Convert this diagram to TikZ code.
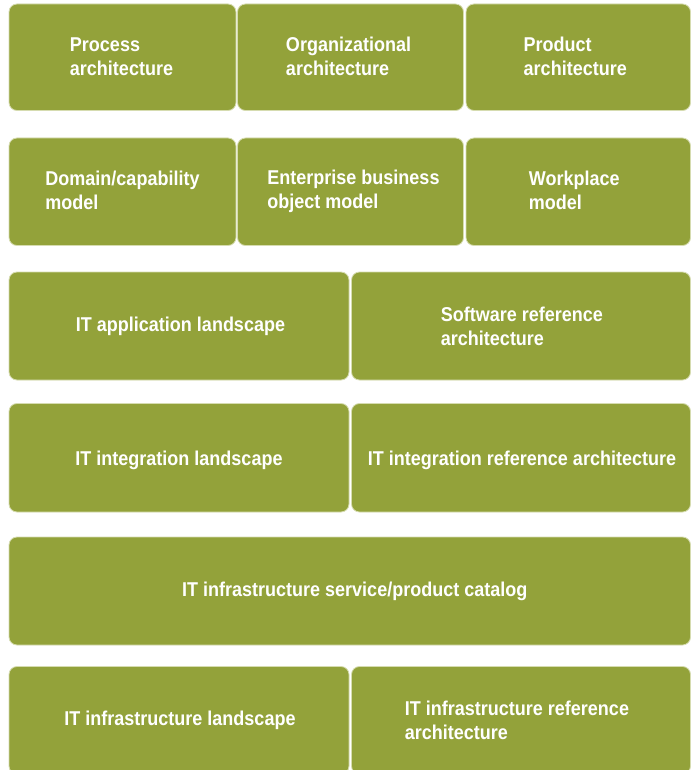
\documentclass[tikz,border=0pt]{standalone}
\usepackage{fontspec}
\setmainfont{Liberation Sans}[FakeStretch=0.9]
\definecolor{boxgreen}{RGB}{147,162,58}
\definecolor{boxedge}{RGB}{214,220,176}
\tikzset{
  blk/.style={fill=boxgreen, draw=boxedge, line width=0.8pt, rounded corners=8pt,
    inner sep=0pt},
  blktext/.style={text=white, align=left, inner sep=0pt,
    font=\bfseries\fontsize{20}{24}\selectfont},
}
\newcommand{\blkbox}[8][0]{% [x shift], y shift, name, x1, x2, y1, y2, text
  \node[blk, minimum width={(#5-#4)*1pt}, minimum height={(#7-#6)*1pt}]
    (#3) at ({(#4+#5)/2},{(#6+#7)/2}) {};
  \node[blktext] (#3-t) at ([xshift=#1pt,yshift=-#2pt]#3.center) {#8};}
\begin{document}
\begin{tikzpicture}[x=1pt,y=-1pt]
\useasboundingbox (0,0) rectangle (692,770);
\fill[white] (0,0) rectangle (692,770);
% row 1
\blkbox[-1]{-1}{proc}{9}{236}{4}{110.5}{Process\\architecture}
\blkbox[-2]{-1}{org}{237.5}{463.5}{4}{110.5}{Organizational\\architecture}
\blkbox[-3]{-1}{prod}{466}{690.5}{4}{110.5}{Product\\architecture}
% row 2
\blkbox{-1}{dom}{9}{236}{138}{245.5}{Domain/capability\\model}
\blkbox[3]{0}{ebo}{237.5}{463.5}{138}{245.5}{Enterprise business\\object model}
\blkbox[-4]{-1}{work}{466}{690.5}{138}{245.5}{Workplace\\model}
% row 3
\blkbox[1.5]{0.5}{app}{9}{349}{272}{380}{IT application landscape}
\blkbox[1]{0}{swref}{351.5}{690.5}{272}{380}{Software reference\\architecture}
% row 4
\blkbox{3}{integ}{9}{349}{403.5}{512}{IT integration landscape}
\blkbox[1]{3}{integref}{351.5}{690.5}{403.5}{512}{IT integration reference architecture}
% row 5
\blkbox[5]{0.5}{cat}{9}{690.5}{537}{645}{IT infrastructure service/product catalog}
% row 6
\blkbox[1]{0}{infra}{9}{349}{666.5}{774}{IT infrastructure landscape}
\blkbox[-4]{0}{infraref}{351.5}{690.5}{666.5}{774}{IT infrastructure reference\\architecture}
\end{tikzpicture}
\end{document}
